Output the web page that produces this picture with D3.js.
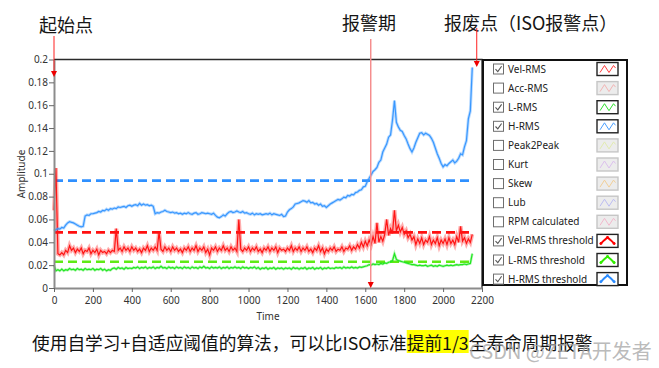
<!DOCTYPE html>
<html>
<head>
<meta charset="utf-8">
<script src="https://cdn.jsdelivr.net/npm/d3@7"></script>
<style>
  body { margin: 0; background: #fff; }
  svg { display: block; font-family: 'Noto Sans', 'Open Sans', sans-serif; }
</style>
</head>
<body>
<svg id="chart" width="659" height="368"></svg>
<script>
// one sample every 10 time units, first sample at t = 0
const timeStep = 10;

const velRms = [
  0.068, 0.105, 0.030, 0.029, 0.031, 0.029, 0.033, 0.031, 0.037, 0.033,
  0.035, 0.031, 0.034, 0.032, 0.035, 0.030, 0.033, 0.032, 0.035, 0.030,
  0.033, 0.031, 0.034, 0.029, 0.033, 0.031, 0.032, 0.030, 0.033, 0.031,
  0.033, 0.032, 0.052, 0.033, 0.035, 0.032, 0.036, 0.033, 0.035, 0.032,
  0.036, 0.033, 0.035, 0.032, 0.034, 0.031, 0.035, 0.033, 0.037, 0.032,
  0.035, 0.033, 0.036, 0.033, 0.049, 0.034, 0.032, 0.036, 0.033, 0.035,
  0.032, 0.036, 0.033, 0.035, 0.032, 0.034, 0.031, 0.035, 0.033, 0.036,
  0.032, 0.035, 0.033, 0.037, 0.032, 0.035, 0.033, 0.036, 0.031, 0.034,
  0.029, 0.035, 0.033, 0.036, 0.032, 0.035, 0.033, 0.037, 0.033, 0.035,
  0.032, 0.036, 0.033, 0.035, 0.032, 0.060, 0.034, 0.032, 0.035, 0.033,
  0.036, 0.032, 0.035, 0.033, 0.036, 0.032, 0.034, 0.031, 0.035, 0.033,
  0.036, 0.032, 0.035, 0.033, 0.036, 0.031, 0.035, 0.033, 0.034, 0.032,
  0.035, 0.033, 0.037, 0.032, 0.035, 0.033, 0.036, 0.032, 0.035, 0.033,
  0.036, 0.032, 0.034, 0.031, 0.035, 0.033, 0.037, 0.032, 0.035, 0.030,
  0.034, 0.032, 0.035, 0.033, 0.036, 0.032, 0.034, 0.033, 0.036, 0.032,
  0.035, 0.034, 0.037, 0.033, 0.036, 0.034, 0.038, 0.035, 0.040, 0.036,
  0.041, 0.037, 0.042, 0.038, 0.045, 0.039, 0.057, 0.040, 0.045, 0.041,
  0.047, 0.060, 0.046, 0.052, 0.048, 0.068, 0.050, 0.055, 0.049, 0.053,
  0.047, 0.050, 0.044, 0.047, 0.042, 0.045, 0.038, 0.043, 0.039, 0.044,
  0.038, 0.042, 0.040, 0.045, 0.038, 0.042, 0.039, 0.044, 0.037, 0.042,
  0.039, 0.043, 0.038, 0.044, 0.039, 0.042, 0.038, 0.045, 0.040, 0.054,
  0.041, 0.044, 0.039, 0.043, 0.040, 0.047
];

const lRms = [
  0.020, 0.015, 0.016, 0.015, 0.0165, 0.015, 0.016, 0.0155, 0.017, 0.016,
  0.0165, 0.0155, 0.017, 0.016, 0.0165, 0.0155, 0.017, 0.016, 0.0165, 0.016,
  0.017, 0.0155, 0.0165, 0.016, 0.017, 0.0155, 0.0165, 0.015, 0.016, 0.0155,
  0.017, 0.0175, 0.0165, 0.018, 0.017, 0.0175, 0.0165, 0.018, 0.017, 0.0175,
  0.017, 0.018, 0.0175, 0.0185, 0.017, 0.018, 0.0175, 0.0185, 0.017, 0.018,
  0.0175, 0.0185, 0.017, 0.018, 0.0175, 0.019, 0.0175, 0.018, 0.017, 0.0185,
  0.0175, 0.018, 0.017, 0.0185, 0.0175, 0.018, 0.017, 0.0185, 0.0175, 0.018,
  0.017, 0.0185, 0.0175, 0.018, 0.017, 0.0185, 0.0175, 0.019, 0.0175, 0.018,
  0.017, 0.0185, 0.0175, 0.018, 0.0175, 0.0185, 0.017, 0.018, 0.0175, 0.0185,
  0.017, 0.018, 0.0175, 0.0185, 0.0175, 0.018, 0.017, 0.0185, 0.0175, 0.018,
  0.017, 0.018, 0.0175, 0.0185, 0.017, 0.018, 0.0165, 0.0175, 0.017, 0.018,
  0.0165, 0.0175, 0.017, 0.018, 0.0165, 0.0175, 0.017, 0.0175, 0.0165, 0.0175,
  0.017, 0.0175, 0.0165, 0.018, 0.017, 0.0175, 0.0165, 0.0175, 0.017, 0.018,
  0.0165, 0.0175, 0.017, 0.018, 0.0165, 0.0175, 0.017, 0.018, 0.0165, 0.0175,
  0.017, 0.018, 0.017, 0.0175, 0.017, 0.018, 0.0175, 0.018, 0.017, 0.0185,
  0.0175, 0.018, 0.0175, 0.0185, 0.0175, 0.018, 0.0175, 0.0185, 0.018, 0.0185,
  0.019, 0.0195, 0.0205, 0.020, 0.021, 0.0205, 0.021, 0.0205, 0.0215, 0.021,
  0.022, 0.0215, 0.0225, 0.023, 0.024, 0.030, 0.025, 0.024, 0.0235, 0.023,
  0.0225, 0.022, 0.0215, 0.021, 0.0205, 0.0205, 0.020, 0.0195, 0.020, 0.0195,
  0.0195, 0.020, 0.019, 0.0195, 0.020, 0.019, 0.0195, 0.019, 0.020, 0.0195,
  0.019, 0.0195, 0.020, 0.0195, 0.020, 0.0195, 0.020, 0.0205, 0.020, 0.0205,
  0.0205, 0.021, 0.0205, 0.021, 0.0215, 0.030
];

const hRms = [
  0.050, 0.051, 0.052, 0.0515, 0.053, 0.0525, 0.055, 0.057, 0.058, 0.0575,
  0.057, 0.056, 0.055, 0.054, 0.0535, 0.054, 0.063, 0.064, 0.0635, 0.065,
  0.065, 0.0655, 0.066, 0.067, 0.0665, 0.068, 0.0675, 0.069, 0.068, 0.0695,
  0.069, 0.070, 0.0695, 0.071, 0.0705, 0.071, 0.0715, 0.0705, 0.072, 0.0725,
  0.0715, 0.0725, 0.073, 0.072, 0.074, 0.0725, 0.0735, 0.0725, 0.073, 0.072,
  0.0725, 0.0715, 0.065, 0.066, 0.0655, 0.0665, 0.067, 0.068, 0.067, 0.0665,
  0.066, 0.0665, 0.0655, 0.066, 0.065, 0.0655, 0.0645, 0.0655, 0.065, 0.066,
  0.065, 0.0645, 0.0655, 0.066, 0.0645, 0.065, 0.066, 0.0655, 0.065, 0.0655,
  0.065, 0.0645, 0.0655, 0.0635, 0.062, 0.0615, 0.0625, 0.064, 0.063, 0.065,
  0.0665, 0.067, 0.066, 0.0665, 0.0675, 0.0665, 0.066, 0.067, 0.0655, 0.066,
  0.065, 0.0645, 0.0655, 0.064, 0.065, 0.0645, 0.065, 0.064, 0.0645, 0.065,
  0.0645, 0.0655, 0.064, 0.065, 0.0645, 0.064, 0.0635, 0.0645, 0.0625, 0.063,
  0.0665, 0.0685, 0.0695, 0.071, 0.0735, 0.074, 0.0745, 0.0755, 0.0765, 0.076,
  0.075, 0.0765, 0.0745, 0.075, 0.0735, 0.074, 0.0725, 0.0735, 0.0715, 0.072,
  0.0705, 0.072, 0.0735, 0.0745, 0.0755, 0.0765, 0.0775, 0.077, 0.078, 0.0795,
  0.079, 0.081, 0.0805, 0.082, 0.0815, 0.0835, 0.084, 0.0855, 0.086, 0.0885,
  0.089, 0.093, 0.096, 0.099, 0.102, 0.1035, 0.1055, 0.110, 0.112, 0.119,
  0.1225, 0.126, 0.132, 0.134, 0.147, 0.164, 0.145, 0.141, 0.138, 0.137,
  0.1335, 0.1305, 0.126, 0.122, 0.119, 0.1225, 0.1275, 0.1315, 0.1355, 0.136,
  0.134, 0.1355, 0.1345, 0.1335, 0.131, 0.1275, 0.1225, 0.1175, 0.1135, 0.109,
  0.106, 0.108, 0.107, 0.109, 0.1105, 0.112, 0.1095, 0.111, 0.1135, 0.1175,
  0.1165, 0.1235, 0.129, 0.148, 0.155, 0.193
];

const thresholdValues = [0.0487, 0.023, 0.094]; // Vel-RMS, L-RMS, H-RMS
const thresholdEnd = 2150;

const xTicks = [0, 200, 400, 600, 800, 1000, 1200, 1400, 1600, 1800, 2000, 2200];
const yTicks = [0, 0.02, 0.04, 0.06, 0.08, 0.1, 0.12, 0.14, 0.16, 0.18, 0.2];

const legendNames = ['Vel-RMS', 'Acc-RMS', 'L-RMS', 'H-RMS', 'Peak2Peak', 'Kurt', 'Skew', 'Lub',
  'RPM calculated', 'Vel-RMS threshold', 'L-RMS threshold', 'H-RMS threshold'];
const legendChecked = [true, false, true, true, false, false, false, false, false, true, true, true];
const legendIsThreshold = [false, false, false, false, false, false, false, false, false, true, true, true];
const legendColors = ['#ff3b3b', '#f2b4b4', '#2fe02f', '#4aa0ff', '#e2ebb0', '#dcc0ee', '#f2cf98',
  '#bcbcf2', '#f2b8cc', '#ff0000', '#33ee00', '#2b8cff'];

const annoLabels = ['起始点', '报警期', '报废点（ISO报警点）'];
const annoTimes = [0, 1628, 2173];

const captionParts = ['使用自学习+自适应阈值的算法，可以比ISO标准', '提前1/3', '全寿命周期报警'];
const watermark = 'CSDN @ZETA开发者';

const colors = { vel: '#ff1414', l: '#22e622', h: '#3897ff', velT: '#ff1010', lT: '#5fea14', hT: '#2f90ff' };

const svg = d3.select('#chart');
const plot = { left: 54, right: 482, top: 59.5, bottom: 288 };

const x = d3.scaleLinear().domain([0, 2200]).range([plot.left, plot.right]);
const y = d3.scaleLinear().domain([0, 0.2]).range([plot.bottom, plot.top]);

// frame (top + right)
svg.append('path')
  .attr('d', `M${plot.left},${plot.top}H${plot.right}V${plot.bottom}`)
  .attr('fill', 'none')
  .attr('stroke', '#2a2a2a')
  .attr('stroke-width', 1.3);

// thresholds
const thrColors = [colors.velT, colors.lT, colors.hT];
svg.append('g')
  .selectAll('line')
  .data(thresholdValues)
  .join('line')
  .attr('x1', x(0))
  .attr('x2', x(thresholdEnd))
  .attr('y1', (d) => y(d))
  .attr('y2', (d) => y(d))
  .attr('stroke', (d, i) => thrColors[i])
  .attr('stroke-width', 2.6)
  .attr('stroke-dasharray', '9,5');

const line = d3.line()
  .x((d, i) => x(i * timeStep))
  .y((d) => y(d));

const series = [
  { values: lRms, color: colors.l, halo: 2.6 },
  { values: velRms, color: colors.vel, halo: 4 },
  { values: hRms, color: colors.h, halo: 3 },
];

// soft band under each trace to mimic the dense noise of the raw signal
const traces = svg.append('g')
  .selectAll('g')
  .data(series)
  .join('g');

traces.append('path')
  .attr('d', (d) => line(d.values))
  .attr('fill', 'none')
  .attr('stroke', (d) => d.color)
  .attr('stroke-opacity', 0.35)
  .attr('stroke-width', (d) => d.halo);

traces.append('path')
  .attr('d', (d) => line(d.values))
  .attr('fill', 'none')
  .attr('stroke', (d) => d.color)
  .attr('stroke-width', 1.2);

// axes
const yAxis = svg.append('g')
  .attr('transform', `translate(${plot.left},0)`)
  .call(d3.axisLeft(y).tickValues(yTicks).tickFormat((d) => String(d)).tickSize(5).tickSizeOuter(0));
const xAxis = svg.append('g')
  .attr('transform', `translate(0,${plot.bottom})`)
  .call(d3.axisBottom(x).tickValues(xTicks).tickFormat((d) => String(d)).tickSize(4).tickSizeOuter(0));

[xAxis, yAxis].forEach((g) => {
  g.select('.domain').attr('stroke', '#8c8c8c').attr('stroke-width', 2);
  g.selectAll('.tick line').attr('stroke', '#666');
  g.selectAll('.tick text')
    .attr('fill', '#333')
    .style('font-size', '10px')
    .style('font-family', "'Noto Sans', sans-serif");
});
xAxis.selectAll('.tick text').attr('dy', '0.9em');
yAxis.selectAll('.tick text').attr('x', -6);

svg.append('text')
  .attr('x', (plot.left + plot.right) / 2)
  .attr('y', 320)
  .attr('text-anchor', 'middle')
  .attr('font-size', 10)
  .attr('fill', '#333')
  .text('Time');

svg.append('text')
  .attr('transform', 'translate(25,174) rotate(-90)')
  .attr('text-anchor', 'middle')
  .attr('font-size', 10)
  .attr('fill', '#333')
  .text('Amplitude');

// legend
const lg = { x: 483, y: 60, w: 144, h: 225, row0: 69, step: 19.1 };
svg.append('rect')
  .attr('x', lg.x)
  .attr('y', lg.y)
  .attr('width', lg.w)
  .attr('height', lg.h)
  .attr('fill', '#fff')
  .attr('stroke', '#111')
  .attr('stroke-width', 2);

const rows = svg.append('g')
  .selectAll('g')
  .data(legendNames)
  .join('g')
  .attr('transform', (d, i) => `translate(0,${lg.row0 + i * lg.step})`);

rows.append('rect')
  .attr('x', 493.5)
  .attr('y', -5)
  .attr('width', 10)
  .attr('height', 10)
  .attr('fill', '#fff')
  .attr('stroke', '#6e6e6e')
  .attr('stroke-width', 1);

rows.filter((d, i) => legendChecked[i])
  .append('path')
  .attr('d', 'M495.5,0.2L497.8,2.6L501.6,-2.8')
  .attr('fill', 'none')
  .attr('stroke', '#555')
  .attr('stroke-width', 1.1);

rows.append('text')
  .attr('x', 508)
  .attr('y', 0)
  .attr('dy', '0.35em')
  .attr('font-size', 10)
  .attr('fill', '#222')
  .text((d) => d);

rows.append('rect')
  .attr('x', 597)
  .attr('y', -6.5)
  .attr('width', 21)
  .attr('height', 13)
  .attr('fill', (d, i) => (legendChecked[i] ? '#fff' : '#ececec'))
  .attr('stroke', (d, i) => (legendChecked[i] ? '#222' : '#c6c6c6'))
  .attr('stroke-width', 1.4);

rows.append('path')
  .attr('d', (d, i) => (legendIsThreshold[i]
    ? 'M600,3.5L604,-0.5L607.5,-3.5L611,-0.5L615,3.5'
    : 'M600,3.5L604.5,-3.5L609,3.5L613.5,-3.5L615.5,-1'))
  .attr('fill', 'none')
  .attr('stroke', (d, i) => legendColors[i])
  .attr('stroke-width', (d, i) => (legendIsThreshold[i] ? 2 : 1));

rows.filter((d, i) => legendIsThreshold[i])
  .selectAll('circle')
  .data((d) => [[601, 2.5], [607.5, -3.5], [614, 2.5]].map((p) => ({ p, c: legendColors[legendNames.indexOf(d)] })))
  .join('circle')
  .attr('cx', (d) => d.p[0])
  .attr('cy', (d) => d.p[1])
  .attr('r', 1.4)
  .attr('fill', (d) => d.c);

// annotations
const annoLayout = [
  { tx: 39, ty: 24, y1: 36, y2: 77 },
  { tx: 342, ty: 22, y1: 39, y2: 288, faint: true },
  { tx: 444, ty: 22, y1: 28, y2: 67 },
];
const cjk = "'Noto Sans CJK SC', 'Noto Sans', sans-serif";

annoLabels.forEach((label, i) => {
  const a = annoLayout[i];
  const ax = x(annoTimes[i]);
  svg.append('text')
    .attr('x', a.tx)
    .attr('y', a.ty)
    .attr('dominant-baseline', 'central')
    .attr('font-size', 18)
    .attr('fill', '#151515')
    .style('font-family', cjk)
    .text(label);
  svg.append('line')
    .attr('x1', ax)
    .attr('x2', ax)
    .attr('y1', a.y1)
    .attr('y2', a.y2 - 5)
    .attr('stroke', a.faint ? '#f58d8d' : '#ff2020')
    .attr('stroke-width', a.faint ? 1.5 : 1);
  svg.append('path')
    .attr('d', `M${ax - 3},${a.y2 - 6}L${ax + 3},${a.y2 - 6}L${ax},${a.y2}Z`)
    .attr('fill', '#ee0000');
});

// caption with highlight
const cap = svg.append('g').style('font-family', cjk).attr('font-size', 17.7);
let cx = 32;
captionParts.forEach((part, i) => {
  const t = cap.append('text')
    .attr('x', cx)
    .attr('y', 342)
    .attr('dominant-baseline', 'central')
    .attr('fill', '#111')
    .text(part);
  const w = t.node().getComputedTextLength();
  if (i === 1) {
    cap.insert('rect', 'text')
      .attr('x', cx)
      .attr('y', 330)
      .attr('width', w)
      .attr('height', 23)
      .attr('fill', '#ffff00');
  }
  cx += w;
});

svg.append('text')
  .attr('x', 469)
  .attr('y', 350)
  .attr('dominant-baseline', 'central')
  .attr('font-size', 20)
  .attr('fill', '#a8a8a8')
  .attr('fill-opacity', 0.8)
  .style('font-family', cjk)
  .text(watermark);
</script>
</body>
</html>
